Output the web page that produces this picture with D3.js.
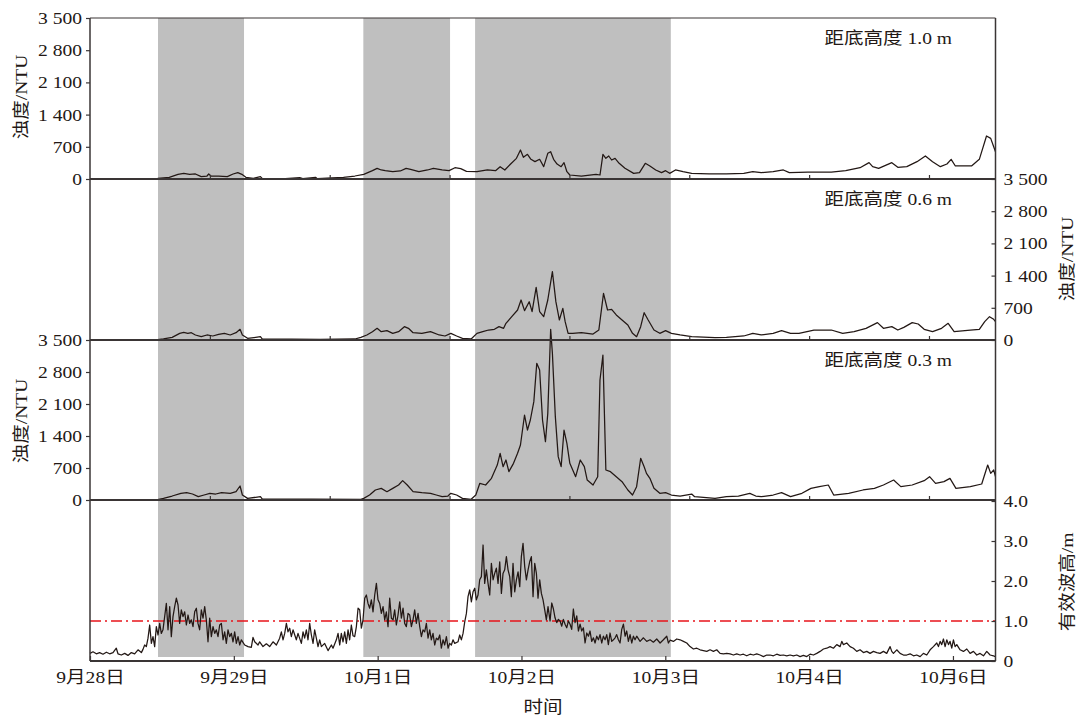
<!DOCTYPE html>
<html><head><meta charset="utf-8">
<script src="https://cdn.jsdelivr.net/npm/d3@7"></script>
<style>
body{margin:0;background:#fff}
svg{display:block}
</style>
</head><body>
<svg id="c" width="1079" height="720"></svg>
<script>
// ---------- data ----------
const dateTickHours = [0, 24, 48, 72, 96, 120, 144];
const dateLabels = ["9月28日", "9月29日", "10月1日", "10月2日", "10月3日", "10月4日", "10月6日"];
const innerTickHours = [20, 40, 60, 80, 100, 120, 140];
const shadedPeriods = [[11.35, 25.70], [45.61, 60.08], [64.26, 96.92]];
const turbTicks = [0, 700, 1400, 2100, 2800, 3500];
const waveTicks = [0, 1, 2, 3, 4];
const waveThreshold = 1.0;
const panelLabels = ["距底高度 1.0 m", "距底高度 0.6 m", "距底高度 0.3 m"];
const turbTitle = "浊度/NTU";
const waveTitle = "有效波高/m";
const xTitle = "时间";

const turbidity10 = [[0,7],[9.35,7],[11.29,14],[13.23,36],[14.68,101],[15.65,123],[16.62,101],[17.59,109],[18.56,51],[19.52,65],[19.81,109],[20.2,65],[21.46,65],[22.91,51],[23.88,109],[24.66,138],[25.34,101],[26.01,36],[27.27,14],[28.44,51],[28.73,14],[32.6,7],[35.0,29],[35.5,7],[37.64,36],[37.93,7],[40.35,22],[42.3,36],[44.2,65],[45.68,101],[47.13,181],[47.91,232],[48.6,196],[49.27,181],[50.52,159],[51.78,174],[52.75,232],[53.5,210],[54.88,159],[56.33,196],[57.3,232],[58.76,196],[59.92,181],[60.9,246],[61.86,225],[62.82,167],[64.57,159],[66.31,196],[67.67,181],[68.44,268],[69.22,196],[70.19,326],[71.16,449],[71.83,630],[72.32,471],[73.0,536],[73.58,428],[74.25,377],[75.03,428],[75.71,268],[76.39,558],[76.87,594],[77.36,428],[77.94,326],[78.62,268],[79.1,355],[79.58,159],[80.07,87],[82.0,65],[84.43,101],[85.1,87],[85.59,536],[86.08,449],[86.56,500],[87.04,413],[87.62,449],[88.3,341],[89.27,232],[90.72,123],[91.69,138],[92.66,341],[93.43,283],[94.4,196],[95.37,138],[96.05,181],[96.73,123],[97.7,196],[98.96,159],[100.4,123],[103.3,109],[106.2,109],[109.1,123],[110.6,159],[112.0,138],[114.0,159],[115.7,196],[116.7,138],[119.8,152],[123.7,152],[126.1,181],[128.5,246],[130.0,355],[130.6,268],[131.6,232],[133.8,355],[134.8,254],[136.3,268],[138.0,377],[139.4,500],[140.6,377],[141.9,268],[143.0,326],[143.7,428],[144.4,283],[147.1,283],[148.4,428],[149.6,935],[150.3,884],[150.8,700],[151.1,594]];

const turbidity06 = [[0,7],[11.29,7],[12.26,22],[13.71,58],[14.97,145],[15.65,167],[16.33,145],[16.91,159],[17.59,109],[18.56,72],[19.52,109],[20.49,87],[21.46,123],[22.43,145],[23.4,109],[24.37,159],[25.04,232],[25.43,109],[26.3,36],[28.44,72],[28.73,22],[38.41,14],[44.2,22],[45.2,58],[46.2,109],[47.13,181],[47.91,254],[48.6,181],[49.55,203],[50.52,145],[51.49,181],[52.46,290],[53.14,254],[53.91,159],[55.37,145],[56.82,181],[58.27,109],[59.24,87],[60.21,145],[61.18,87],[62.15,36],[63.6,22],[64.57,145],[65.54,181],[66.51,217],[67.48,232],[68.25,290],[69.02,254],[69.41,362],[70.38,507],[71.35,652],[71.93,870],[72.51,638],[73.29,833],[73.77,616],[74.45,1145],[75.03,616],[75.71,507],[76.39,870],[77.16,1486],[77.74,833],[78.32,435],[78.9,688],[79.29,399],[79.78,145],[80.55,145],[82.0,159],[83.94,130],[84.91,217],[85.69,1015],[86.36,652],[87.04,667],[87.82,544],[88.78,435],[89.75,326],[90.53,145],[91.21,72],[91.89,290],[92.47,594],[93.14,435],[94.11,217],[95.08,145],[96.05,203],[97.02,145],[98.47,109],[100.4,72],[104.3,51],[106.2,58],[109.1,87],[110.6,145],[112.0,109],[114.0,145],[115.4,203],[116.9,145],[118.3,145],[120.8,217],[123.7,217],[125.6,145],[127.5,181],[129.5,254],[131.4,377],[132.4,254],[133.8,290],[134.8,217],[135.8,275],[137.2,377],[138.2,348],[139.2,232],[140.6,181],[142.1,254],[143.2,362],[144.2,181],[146.9,217],[148.4,232],[149.3,399],[150.1,507],[150.8,449],[151.1,399]];

const turbidity03 = [[0,7],[11.29,7],[12.26,36],[13.71,87],[15.17,146],[16.13,160],[17.1,131],[18.07,73],[19.04,109],[20.0,146],[20.98,131],[21.95,160],[23.4,146],[24.37,182],[25.04,306],[25.43,109],[26.3,36],[28.44,73],[28.73,22],[45.2,15],[45.68,36],[46.65,109],[47.62,219],[48.6,255],[49.55,182],[50.52,255],[51.49,328],[52.17,423],[52.94,328],[53.91,182],[55.37,160],[56.82,146],[57.79,109],[58.76,73],[59.73,87],[60.21,146],[61.18,109],[62.15,36],[63.6,15],[64.38,109],[65.05,365],[66.02,328],[66.99,474],[67.96,765],[68.44,1021],[68.93,729],[69.41,875],[69.9,620],[70.67,802],[71.35,1021],[71.83,1203],[72.51,1859],[73.0,1531],[73.48,1750],[74.06,2151],[74.55,2989],[75.03,2843],[75.51,1750],[76.0,1276],[76.39,1895],[76.87,3732],[77.16,3208],[77.65,1823],[78.13,948],[78.62,729],[79.1,1531],[79.58,1239],[80.07,802],[81.04,510],[81.81,875],[82.49,729],[82.97,437],[83.94,328],[84.72,510],[85.1,2624],[85.59,3171],[86.08,656],[86.85,620],[87.82,510],[88.78,401],[89.75,219],[90.53,109],[91.21,292],[91.89,911],[92.47,729],[92.86,583],[93.43,474],[94.11,255],[95.08,146],[96.05,160],[97.02,109],[98.47,87],[100.4,131],[100.9,73],[104.3,36],[106.2,73],[108.2,87],[110.1,146],[111.1,87],[112.0,73],[114.0,109],[115.4,160],[116.9,73],[118.8,146],[120.3,255],[121.7,292],[123.2,328],[124.1,109],[126.6,146],[129.0,219],[130.9,255],[132.4,328],[134.1,437],[135.3,292],[137.2,328],[139.2,423],[140.1,510],[141.1,365],[142.5,401],[143.5,474],[144.5,255],[146.9,292],[148.8,350],[149.8,765],[150.3,583],[150.8,656],[151.1,510]];

const waveHeight = [[0,0.19],[0.5,0.23],[1.06,0.18],[1.61,0.21],[2.17,0.17],[2.73,0.22],[3.28,0.18],[3.84,0.21],[4.39,0.32],[4.67,0.18],[5.23,0.15],[5.79,0.19],[6.34,0.14],[6.9,0.21],[7.45,0.18],[8.01,0.28],[8.57,0.21],[8.84,0.29],[9.12,0.4],[9.4,0.36],[9.68,0.57],[9.96,0.9],[10.24,0.44],[10.51,0.61],[10.79,0.36],[11.07,0.86],[11.35,0.65],[11.63,0.94],[11.9,0.69],[12.18,0.78],[12.46,1.11],[12.74,1.44],[13.02,0.78],[13.3,1.36],[13.57,0.61],[13.85,1.11],[14.13,1.36],[14.41,1.57],[14.69,1.4],[14.96,0.94],[15.24,1.28],[15.52,1.11],[15.8,1.23],[16.08,0.9],[16.36,1.15],[16.63,0.94],[16.91,1.03],[17.19,0.86],[17.47,1.23],[17.75,1.32],[18.02,0.94],[18.3,0.78],[18.58,1.28],[18.86,1.07],[19.14,1.36],[19.41,1.03],[19.69,0.48],[19.97,1.07],[20.25,0.61],[20.53,0.86],[20.81,0.69],[21.08,0.78],[21.36,0.61],[21.64,0.9],[21.92,0.94],[22.2,0.53],[22.47,0.73],[22.75,0.44],[23.03,0.78],[23.31,0.61],[23.59,0.69],[23.86,0.48],[24.14,0.73],[24.42,0.44],[24.7,0.61],[24.98,0.4],[25.26,0.53],[25.81,0.4],[26.37,0.36],[26.92,0.34],[27.2,0.59],[27.48,0.48],[28.04,0.4],[28.31,0.48],[28.87,0.36],[29.43,0.43],[29.98,0.36],[30.54,0.48],[31.1,0.4],[31.65,0.57],[31.93,0.73],[32.21,0.53],[32.49,0.69],[32.77,0.94],[33.04,0.73],[33.32,0.82],[33.6,0.61],[33.88,0.78],[34.43,0.53],[34.71,0.69],[35.27,0.44],[35.55,0.73],[35.82,0.57],[36.1,0.78],[36.38,0.53],[36.66,0.94],[36.94,0.65],[37.22,0.44],[37.49,0.78],[37.77,0.57],[38.05,0.36],[38.33,0.53],[38.61,0.36],[39.16,0.44],[39.72,0.26],[40.28,0.4],[40.55,0.32],[41.11,0.53],[41.39,0.69],[41.67,0.4],[41.94,0.69],[42.22,0.48],[42.5,0.73],[42.78,0.44],[43.06,0.78],[43.33,0.53],[43.61,0.9],[43.89,0.63],[44.17,0.61],[44.45,0.86],[44.73,1.32],[45.0,1.28],[45.28,0.82],[45.56,1.03],[45.84,1.57],[46.12,1.65],[46.39,1.44],[46.67,1.32],[46.95,1.53],[47.23,1.23],[47.51,1.65],[47.79,1.94],[48.06,1.53],[48.34,1.44],[48.62,1.19],[48.9,1.36],[49.18,1.03],[49.45,1.23],[49.73,0.86],[50.01,1.57],[50.29,1.07],[50.57,1.03],[50.84,1.28],[51.12,0.9],[51.4,1.15],[51.68,1.48],[51.96,1.07],[52.24,1.32],[52.51,0.94],[52.79,0.86],[53.07,1.19],[53.35,1.15],[53.63,0.86],[53.9,1.03],[54.18,1.28],[54.46,0.94],[54.74,1.19],[55.02,0.86],[55.3,0.61],[55.57,0.78],[55.85,0.73],[56.13,0.94],[56.41,0.57],[56.69,0.78],[56.96,0.53],[57.24,0.69],[57.52,0.4],[57.8,0.57],[58.08,0.53],[58.36,0.65],[58.63,0.32],[58.91,0.53],[59.19,0.4],[59.47,0.61],[59.75,0.32],[60.02,0.44],[60.3,0.4],[60.58,0.53],[60.86,0.44],[61.41,0.48],[61.69,0.65],[61.97,0.53],[62.25,0.69],[62.53,0.98],[62.81,1.19],[63.08,1.61],[63.36,1.78],[63.64,1.48],[63.92,1.73],[64.2,1.82],[64.47,1.53],[64.75,1.65],[65.03,2.03],[65.31,2.11],[65.59,2.9],[65.86,1.94],[66.14,2.28],[66.42,1.94],[66.7,1.65],[66.98,2.44],[67.26,2.03],[67.53,2.19],[67.81,2.32],[68.09,1.94],[68.37,2.48],[68.65,1.69],[68.92,2.19],[69.2,2.28],[69.48,2.61],[69.76,2.28],[70.04,2.11],[70.31,1.61],[70.59,2.44],[70.87,1.73],[71.15,2.03],[71.43,2.23],[71.71,1.86],[71.98,2.61],[72.26,2.94],[72.54,2.36],[72.82,2.03],[73.1,2.28],[73.37,2.48],[73.65,2.61],[73.93,1.61],[74.21,2.44],[74.49,2.19],[74.76,1.57],[75.04,2.03],[75.32,1.69],[75.6,1.53],[75.88,1.28],[76.15,1.03],[76.43,1.36],[76.77,1.0],[77.05,1.45],[77.33,1.3],[77.6,1.08],[77.88,0.96],[78.16,1.04],[78.44,1.0],[78.72,0.87],[78.99,1.04],[79.27,0.92],[79.55,0.83],[79.83,1.0],[80.11,0.92],[80.38,0.79],[80.66,1.3],[80.94,0.96],[81.22,1.13],[81.5,0.75],[81.78,0.92],[82.05,0.75],[82.33,0.83],[82.61,0.45],[82.89,0.7],[83.17,0.62],[83.44,0.75],[83.72,0.49],[84.0,0.58],[84.28,0.45],[84.56,0.62],[84.84,0.53],[85.11,0.66],[85.39,0.45],[85.67,0.62],[85.95,0.53],[86.23,0.66],[86.5,0.41],[86.78,0.7],[87.06,0.49],[87.34,0.53],[87.62,0.58],[87.89,0.66],[88.17,0.53],[88.45,0.45],[88.73,0.79],[89.01,0.92],[89.29,0.62],[89.56,0.75],[89.84,0.49],[90.12,0.66],[90.4,0.45],[90.68,0.62],[90.95,0.53],[91.23,0.62],[91.79,0.49],[92.35,0.58],[92.9,0.49],[93.46,0.53],[94.01,0.47],[94.57,0.55],[95.13,0.45],[95.68,0.53],[96.24,0.62],[96.52,0.45],[96.8,0.52],[97.35,0.49],[97.91,0.55],[98.46,0.53],[99.02,0.49],[99.58,0.45],[100.13,0.36],[100.69,0.3],[101.25,0.32],[101.8,0.28],[102.36,0.26],[102.92,0.24],[103.47,0.28],[104.03,0.24],[104.58,0.28],[105.14,0.19],[105.7,0.18],[106.25,0.19],[106.81,0.18],[107.37,0.15],[107.92,0.18],[108.48,0.15],[109.03,0.17],[109.59,0.13],[110.15,0.17],[110.7,0.15],[111.26,0.18],[111.82,0.15],[112.37,0.11],[112.93,0.15],[113.48,0.15],[114.04,0.13],[114.6,0.17],[115.15,0.14],[115.71,0.15],[116.27,0.13],[116.82,0.15],[117.38,0.13],[117.94,0.15],[118.49,0.11],[119.05,0.14],[119.6,0.11],[120.16,0.17],[120.72,0.15],[121.27,0.19],[121.83,0.24],[122.39,0.3],[122.94,0.32],[123.5,0.36],[124.05,0.32],[124.61,0.41],[125.17,0.36],[125.45,0.49],[125.72,0.41],[126.28,0.45],[126.84,0.36],[127.39,0.32],[127.95,0.24],[128.5,0.28],[129.06,0.21],[129.62,0.24],[130.17,0.19],[130.73,0.24],[131.29,0.21],[131.84,0.19],[132.4,0.24],[132.95,0.19],[133.51,0.36],[133.79,0.24],[134.07,0.19],[134.62,0.28],[135.18,0.19],[135.74,0.15],[136.29,0.15],[136.85,0.18],[137.41,0.13],[137.96,0.15],[138.52,0.11],[139.07,0.19],[139.63,0.15],[140.19,0.28],[140.74,0.36],[141.3,0.45],[141.58,0.36],[141.86,0.49],[142.13,0.41],[142.41,0.55],[142.69,0.36],[142.97,0.53],[143.25,0.41],[143.52,0.49],[143.8,0.32],[144.08,0.53],[144.36,0.36],[144.64,0.41],[145.19,0.28],[145.75,0.24],[146.31,0.3],[146.86,0.19],[147.42,0.24],[147.97,0.15],[148.53,0.19],[149.09,0.13],[149.64,0.24],[150.2,0.15],[150.76,0.13],[151.03,0.11]];

// ---------- layout ----------
const INK = "#231815", FRAME = "#3a3535", BAND = "#bfbfbf", RED = "#e8141b";
const FONT = "'Liberation Serif','Times New Roman','Noto Sans CJK SC',serif";
const FS = 17, S = 1.15;
const left = 90, right = 995.5;
const panelTop = [18, 179, 340, 501];
const panelBot = [179, 340, 500, 661];

const svg = d3.select("#c");
const x = d3.scaleLinear().domain([0, 151.1]).range([left, right]);
const yTurb = [0, 1, 2].map(i => d3.scaleLinear().domain([0, 3500]).range([panelBot[i], panelTop[i]]));
const yWave = d3.scaleLinear().domain([0, 4]).range([panelBot[3], panelTop[3]]);

const fmtTurb = d => d >= 1000 ? `${Math.floor(d / 1000)} ${String(d % 1000).padStart(3, "0")}` : `${d}`;
const fmtWave = d => d === 0 ? "0" : d.toFixed(1);

// shaded periods
svg.append("g").selectAll("rect").data(shadedPeriods).join("rect")
  .attr("x", d => x(d[0])).attr("width", d => x(d[1]) - x(d[0]))
  .attr("y", panelTop[0]).attr("height", 657 - panelTop[0])
  .attr("fill", BAND);

// threshold line
svg.append("line")
  .attr("x1", left).attr("x2", right)
  .attr("y1", yWave(waveThreshold)).attr("y2", yWave(waveThreshold))
  .attr("stroke", RED).attr("stroke-width", 1.3)
  .attr("stroke-dasharray", "11,4,2,4");

// series
const series = [
  { data: turbidity10, y: yTurb[0] },
  { data: turbidity06, y: yTurb[1] },
  { data: turbidity03, y: yTurb[2] },
  { data: waveHeight, y: yWave }
];
series.forEach(s => {
  svg.append("path").datum(s.data)
    .attr("fill", "none").attr("stroke", INK).attr("stroke-width", 1.25)
    .attr("stroke-linejoin", "round")
    .attr("d", d3.line().x(d => x(d[0])).y(d => s.y(d[1])));
});

// frame
svg.append("line").attr("x1", left).attr("x2", left).attr("y1", panelTop[0]).attr("y2", panelBot[3]).attr("stroke", FRAME).attr("stroke-width", 1.5);
svg.append("line").attr("x1", right).attr("x2", right).attr("y1", panelTop[0]).attr("y2", panelBot[3]).attr("stroke", FRAME).attr("stroke-width", 1.5);
svg.append("line").attr("x1", left).attr("x2", right).attr("y1", panelTop[0]).attr("y2", panelTop[0]).attr("stroke", FRAME).attr("stroke-width", 1.2);
[179, 340, 500, 661].forEach(yv => {
  svg.append("line").attr("x1", left).attr("x2", right).attr("y1", yv).attr("y2", yv).attr("stroke", FRAME).attr("stroke-width", 2);
});

function styleAxis(g) {
  g.attr("font-family", FONT).attr("font-size", FS);
  g.select(".domain").remove();
  g.selectAll(".tick line").attr("stroke", FRAME).attr("stroke-width", 1.2);
  g.selectAll(".tick text").attr("fill", INK);
}

// left axes (panels 1 and 3)
[0, 2].forEach(i => {
  const g = svg.append("g").attr("transform", `translate(${left},0)`)
    .call(d3.axisLeft(yTurb[i]).tickValues(turbTicks).tickSize(4).tickFormat(fmtTurb));
  styleAxis(g);
  g.selectAll(".tick text").attr("x", -8 / S).attr("transform", `scale(${S},1)`);
});
// right axis panel 2
{
  const g = svg.append("g").attr("transform", `translate(${right},0)`)
    .call(d3.axisRight(yTurb[1]).tickValues(turbTicks).tickSize(-4).tickFormat(fmtTurb));
  styleAxis(g);
  g.selectAll(".tick text").attr("x", 8 / S).attr("transform", `scale(${S},1)`);
}
// right axis wave
{
  const g = svg.append("g").attr("transform", `translate(${right},0)`)
    .call(d3.axisRight(yWave).tickValues(waveTicks).tickSize(-4).tickFormat(fmtWave));
  styleAxis(g);
  g.selectAll(".tick text").attr("x", 8 / S).attr("transform", `scale(${S},1)`);
}
// bottom date axis
{
  const g = svg.append("g").attr("transform", `translate(0,${panelBot[3]})`)
    .call(d3.axisBottom(x).tickValues(dateTickHours).tickSize(-5).tickFormat((d, i) => dateLabels[i]));
  styleAxis(g);
  g.selectAll(".tick text").attr("y", 22).attr("dy", 0).attr("transform", `scale(${S},1)`);
}
// inner ticks at panel bottoms 1-3
[179, 340, 500].forEach(yv => {
  const g = svg.append("g").attr("transform", `translate(0,${yv})`)
    .call(d3.axisBottom(x).tickValues(innerTickHours).tickSize(-4).tickFormat(""));
  styleAxis(g);
});

// axis titles
function vTitle(txt, cx, cy) {
  svg.append("text").attr("transform", `translate(${cx},${cy}) rotate(-90) scale(${S},1)`)
    .attr("text-anchor", "middle").attr("dy", "0.36em")
    .attr("font-family", FONT).attr("font-size", FS).attr("fill", INK).text(txt);
}
vTitle(turbTitle, 21, 97);
vTitle(turbTitle, 1067, 259);
vTitle(turbTitle, 21, 421);
vTitle(waveTitle, 1067, 582);

svg.append("text").attr("transform", `translate(543,713) scale(${S},1)`)
  .attr("text-anchor", "middle").attr("font-family", FONT).attr("font-size", FS).attr("fill", INK).text(xTitle);

// panel labels
panelLabels.forEach((t, i) => {
  svg.append("text").attr("transform", `translate(952,${panelTop[i] + 26}) scale(${S},1)`)
    .attr("text-anchor", "end").attr("font-family", FONT).attr("font-size", FS).attr("fill", INK).text(t);
});
</script>
</body></html>
